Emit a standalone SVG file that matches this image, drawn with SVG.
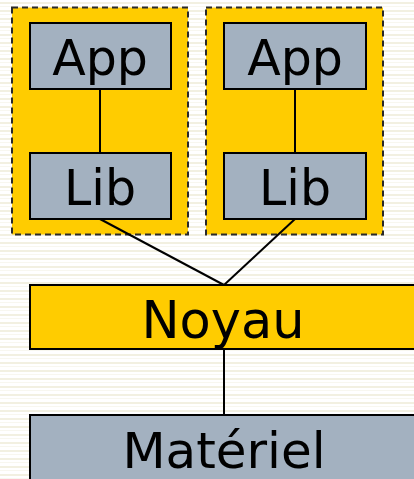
<svg xmlns="http://www.w3.org/2000/svg" width="414" height="479" viewBox="0 0 414 479">
  <defs>
    <pattern id="lines" width="8" height="8" patternUnits="userSpaceOnUse">
      <rect width="8" height="8" fill="#ffffff"/>
      <rect y="2" width="8" height="2" fill="#f2f0e1"/>
      <rect y="6" width="8" height="1" fill="#f8f7ef"/>
    </pattern>
  </defs>
  <style>
    .group { fill: #ffcc00; stroke: #2a2a2a; stroke-width: 2; stroke-dasharray: 6 4; }
    .grey { fill: #a3b1c0; stroke: #000000; stroke-width: 2; }
    .yellow { fill: #ffcc00; stroke: #000000; stroke-width: 2; }
    .label { font-family: "DejaVu Sans", Verdana, sans-serif; font-size: 49px; fill: #000000; text-anchor: middle; }
    .link { stroke: #000000; stroke-width: 2; fill: none; }
  </style>

  <rect width="414" height="479" fill="url(#lines)"/>

  <!-- process containers -->
  <g id="process-left">
    <rect class="group" x="12" y="7.5" width="176" height="227"/>
  </g>
  <g id="process-right">
    <rect class="group" x="206" y="7.5" width="177" height="227"/>
  </g>

  <!-- connectors -->
  <g id="connectors">
    <line class="link" x1="100" y1="89" x2="100" y2="153"/>
    <line class="link" x1="295" y1="89" x2="295" y2="153"/>
    <line class="link" x1="100" y1="219" x2="224" y2="285"/>
    <line class="link" x1="295" y1="219" x2="224" y2="285"/>
    <line class="link" x1="224" y1="349" x2="224" y2="415"/>
  </g>

  <g id="app-left">
    <rect class="grey" x="30" y="23" width="141" height="66"/>
    <text class="label" x="100" y="75">App</text>
  </g>
  <g id="lib-left">
    <rect class="grey" x="30" y="153" width="141" height="66"/>
    <text class="label" x="100" y="205">Lib</text>
  </g>
  <g id="app-right">
    <rect class="grey" x="224" y="23" width="142" height="66"/>
    <text class="label" x="295" y="75">App</text>
  </g>
  <g id="lib-right">
    <rect class="grey" x="224" y="153" width="142" height="66"/>
    <text class="label" x="295" y="205">Lib</text>
  </g>

  <g id="noyau">
    <rect class="yellow" x="30" y="285" width="400" height="64"/>
    <text class="label" x="223" y="338" style="font-size:51px">Noyau</text>
  </g>
  <g id="materiel">
    <rect class="grey" x="30" y="415" width="400" height="80"/>
    <text class="label" x="224" y="468" style="font-size:50px">Matériel</text>
  </g>
</svg>
